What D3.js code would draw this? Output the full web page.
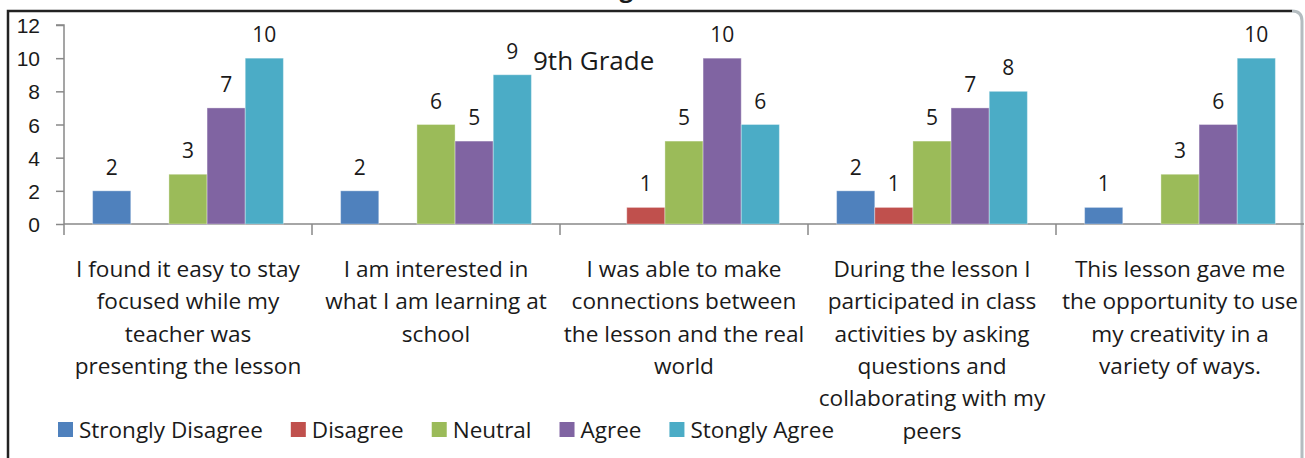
<!DOCTYPE html>
<html>
<head>
<meta charset="UTF-8">
<script src="https://d3js.org/d3.v7.min.js"></script>
<style>
  body {
    margin: 0;
    background: #fff;
    font-family: "Open Sans", Calibri, sans-serif;
  }
  text { fill: #1a1a1a; }
  .tick text { font-size: 21px; }
</style>
</head>
<body>
<div id="chart"></div>
<script>
  // survey statements (x categories), wrapped the same way as the original
  var categories = [
    "I found it easy to stay\nfocused while my\nteacher was\npresenting the lesson",
    "I am interested in\nwhat I am learning at\nschool",
    "I was able to make\nconnections between\nthe lesson and the real\nworld",
    "During the lesson I\nparticipated in class\nactivities by asking\nquestions and\ncollaborating with my\npeers",
    "This lesson gave me\nthe opportunity to use\nmy creativity in a\nvariety of ways."
  ];

  var seriesNames = ["Strongly Disagree", "Disagree", "Neutral", "Agree", "Stongly Agree"];
  var seriesColors = ["#4f81bd", "#c0504d", "#9bbb59", "#8064a2", "#4bacc6"];

  // one array per response, one value per statement
  var stronglyDisagree = [2, 2, 0, 2, 1];
  var disagree         = [0, 0, 1, 1, 0];
  var neutral          = [3, 6, 5, 5, 3];
  var agree            = [7, 5, 10, 7, 6];
  var stronglyAgree    = [10, 9, 6, 8, 10];

  var yTicks = [0, 2, 4, 6, 8, 10, 12];

  var seriesValues = [stronglyDisagree, disagree, neutral, agree, stronglyAgree];

  var width = 1305,
      height = 458;

  var svg = d3.select("#chart").append("svg")
      .attr("width", width)
      .attr("height", height);

  // chart title, cut off by the top of the picture in the original
  svg.append("text")
      .attr("x", 633)
      .attr("y", -3)
      .attr("text-anchor", "end")
      .style("font-size", "24px")
      .style("font-weight", "bold")
      .text("Rating");

  // frame: dark top/left, rounded grey right edge
  svg.append("path")
      .attr("d", "M8,470V11H1292")
      .attr("fill", "none")
      .attr("stroke", "#222")
      .attr("stroke-width", 2.5);
  svg.append("path")
      .attr("d", "M1292,11Q1302,11 1302,21V470")
      .attr("fill", "none")
      .attr("stroke", "#b4bcc0")
      .attr("stroke-width", 3);

  var x0 = d3.scaleBand()
      .domain(categories)
      .range([64, 1304]);

  var bw = x0.bandwidth(),
      barW = bw / 6.5,      // excel gap width 150%
      gap = barW * 0.75;

  var x1 = d3.scaleBand()
      .domain(seriesNames)
      .range([gap, bw - gap]);

  var y = d3.scaleLinear()
      .domain([0, 12])
      .range([224, 25]);

  // y axis
  var yAxis = svg.append("g")
      .attr("transform", "translate(64,0)")
      .call(d3.axisLeft(y).tickValues(yTicks).tickSize(8).tickPadding(16));
  yAxis.selectAll("line, path").attr("stroke", "#888").attr("stroke-width", 1.5);
  yAxis.select(".domain").attr("d", "M-8,25H0V224");
  yAxis.selectAll(".tick text").attr("fill", "#1a1a1a").attr("dy", "0.36em");

  // x axis line with boundary ticks
  var xAxis = svg.append("g");
  xAxis.append("line")
      .attr("x1", 64).attr("x2", 1304)
      .attr("y1", y(0)).attr("y2", y(0))
      .attr("stroke", "#888").attr("stroke-width", 1.5);
  xAxis.selectAll(".bnd")
      .data(categories)
      .enter().append("line")
      .attr("x1", function(d) { return x0(d); })
      .attr("x2", function(d) { return x0(d); })
      .attr("y1", y(0)).attr("y2", y(0) + 11)
      .attr("stroke", "#888").attr("stroke-width", 1.5);

  // bars
  var groups = svg.selectAll(".grp")
      .data(categories)
      .enter().append("g")
      .attr("transform", function(d) { return "translate(" + x0(d) + ",0)"; });

  groups.each(function(cat, ci) {
    var g = d3.select(this);
    var rows = seriesNames.map(function(s, si) {
      return { name: s, value: seriesValues[si][ci], color: seriesColors[si] };
    });

    g.selectAll("rect")
        .data(rows)
        .enter().append("rect")
        .attr("x", function(d) { return x1(d.name); })
        .attr("width", x1.bandwidth())
        .attr("y", function(d) { return y(d.value); })
        .attr("height", function(d) { return y(0) - y(d.value); })
        .attr("fill", function(d) { return d.color; })
        .attr("stroke", "#fff")
        .attr("stroke-opacity", 0.35)
        .attr("stroke-width", 1);

    g.selectAll(".val")
        .data(rows.filter(function(d) { return d.value > 0; }))
        .enter().append("text")
        .attr("class", "val")
        .attr("x", function(d) { return x1(d.name) + x1.bandwidth() / 2; })
        .attr("y", function(d) { return y(d.value) - 16; })
        .attr("text-anchor", "middle")
        .style("font-size", "21px")
        .text(function(d) { return d.value; });

    // category label, one tspan per line
    var lbl = g.append("text")
        .attr("text-anchor", "middle")
        .style("font-size", "22.6px");
    cat.split("\n").forEach(function(line, li) {
      lbl.append("tspan")
          .attr("x", bw / 2)
          .attr("y", 277 + li * 32.3)
          .text(line);
    });
  });

  // floating text box
  svg.append("text")
      .attr("x", 533)
      .attr("y", 70)
      .style("font-size", "26px")
      .text("9th Grade");

  // legend laid out left to right from text widths
  var legend = svg.append("g");
  var lx = 58;
  seriesNames.forEach(function(name, i) {
    legend.append("rect")
        .attr("x", lx).attr("y", 422)
        .attr("width", 15).attr("height", 15)
        .attr("fill", seriesColors[i]);
    var t = legend.append("text")
        .attr("x", lx + 21)
        .attr("y", 438)
        .style("font-size", "22.5px")
        .text(name);
    lx = lx + 21 + t.node().getComputedTextLength() + 28;
  });
</script>
</body>
</html>
